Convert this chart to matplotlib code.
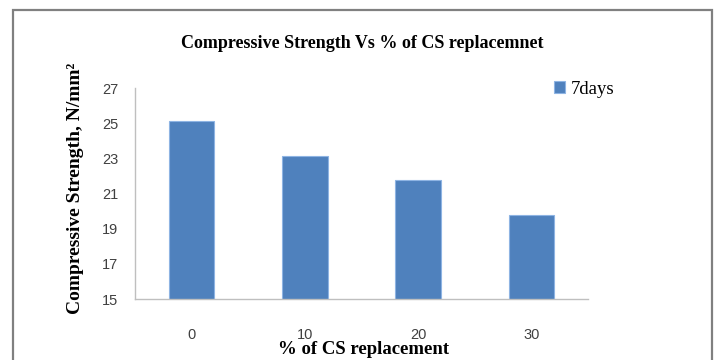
import matplotlib
matplotlib.use("Agg")
import matplotlib.pyplot as plt
import matplotlib.patches as patches
import numpy as np

# 7-day compressive strength for each CS replacement level
replacement = ["0", "10", "20", "30"]
strength_7days = [25.1, 23.13, 21.75, 19.76]
y_ticks = [15, 17, 19, 21, 23, 25, 27]

bar_color = "#4F81BD"
serif = ["Liberation Serif", "DejaVu Serif"]

fig = plt.figure(figsize=(7.19, 3.6), dpi=100)
ax = fig.add_axes([0.1878, 0.1694, 0.630, 0.586])

x = np.arange(len(replacement))
ax.bar(x, strength_7days, width=0.4, color=bar_color, edgecolor="#8EB4E3",
       linewidth=0.8, label="7days", zorder=2)

ax.set_xlim(-0.5, len(replacement) - 0.5)
ax.set_ylim(15, 27)
ax.set_yticks(y_ticks)
ax.set_xticks(x)
ax.set_xticklabels(replacement)

for side in ["top", "right"]:
    ax.spines[side].set_visible(False)
for side in ["left", "bottom"]:
    ax.spines[side].set_color("#BFBFBF")
    ax.spines[side].set_linewidth(1.0)

ax.tick_params(axis="both", length=0, labelsize=10.5, colors="#404040")
ax.tick_params(axis="x", pad=21)
ax.tick_params(axis="y", pad=12)
for lbl in ax.get_xticklabels() + ax.get_yticklabels():
    lbl.set_family(["Liberation Sans", "DejaVu Sans"])

# titles and axis labels in Times-style serif bold
fig.text(362 / 719, 1 - 43 / 360, "Compressive Strength Vs % of CS replacemnet",
         ha="center", va="center", fontsize=13, fontweight="bold", family=serif)
fig.text(364 / 719, 1 - 350 / 360, "% of CS replacement",
         ha="center", va="center", fontsize=13.5, fontweight="bold", family=serif)
fig.text(75 / 719, 1 - 188 / 360, "Compressive Strength, N/mm²",
         ha="center", va="center", rotation=90, fontsize=14, fontweight="bold",
         family=serif)

leg = ax.legend(loc="upper left", bbox_to_anchor=(0.905, 1.08), frameon=False,
                prop={"family": serif, "size": 13.5}, handlelength=0.55,
                handleheight=0.55, handletextpad=0.3, borderpad=0)

# outer chart border, open at the bottom of the image
border = patches.Rectangle((13 / 719, -0.05), (712 - 13) / 719, 1.05 - 10 / 360,
                           transform=fig.transFigure, fill=False,
                           edgecolor="#808080", linewidth=1.6)
fig.patches.append(border)

fig.savefig("out.png", dpi=100)
